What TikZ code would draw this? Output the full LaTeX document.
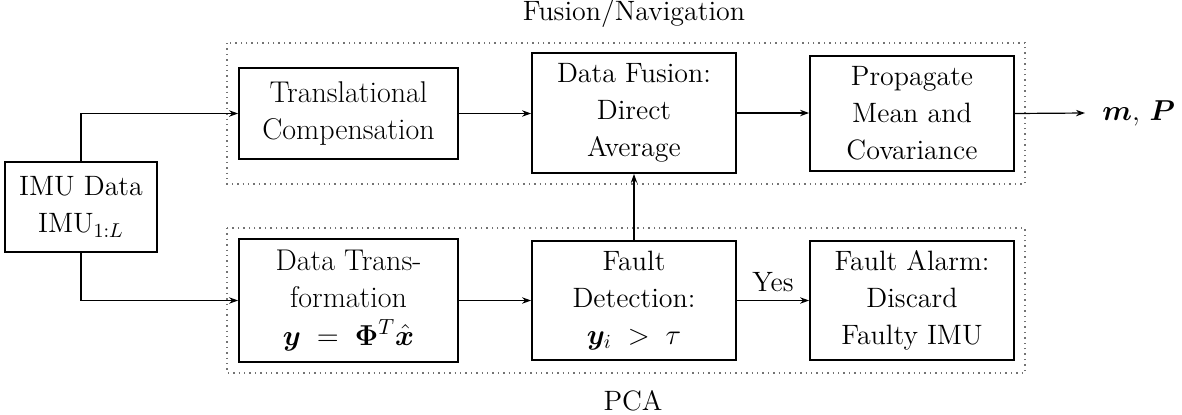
\documentclass[tikz,border=0pt]{standalone}
\usepackage{fontspec}
\usepackage{amsmath,bm}
\usetikzlibrary{arrows.meta}
\tikzset{
  blk/.style={draw, line width=0.9pt, align=center, inner sep=0pt,
    font=\fontsize{14}{18.5}\selectfont},
  bigblk/.style={blk, font=\fontsize{15}{18.7}\selectfont},
  conn/.style={line width=0.6pt, -{Stealth[length=4.5pt,width=3.2pt]}},
  grp/.style={draw=black!55, dotted, line width=0.7pt},
  lbl/.style={inner sep=0pt, font=\fontsize{14}{17}\selectfont}
}
\begin{document}
\begin{tikzpicture}[x=0.5pt,y=-0.5pt]
\useasboundingbox (0,0) rectangle (1182,414);
% groups
\draw[grp] (227,43) rectangle (1025,184);
\draw[grp] (227,228) rectangle (1025,373);
\node[lbl] (fn) at (634,13) {Fusion/Navigation};
\node[lbl] (pca) at (633,401) {PCA};
% blocks
\node[blk, minimum width=76pt, minimum height=45pt] (imu) at (81,207) {IMU Data\\IMU$_{1:L}$};
\node[bigblk, minimum width=109.5pt, minimum height=45.5pt] (tc) at (348.5,113.5) {Translational\\Compensation};
\node[blk, minimum width=102pt, minimum height=60pt] (df) at (634,113) {Data Fusion:\\Direct\\Average};
\node[blk, minimum width=102pt, minimum height=57.5pt] (pm) at (912,113.5) {Propagate\\Mean and\\Covariance};
\node[bigblk, minimum width=109.5pt, minimum height=61.5pt] (dt) at (348.5,300.5) {Data Trans-\\formation\\$\bm{y}\;=\;\bm{\Phi}^T\hat{\bm{x}}$};
\node[blk, minimum width=102pt, minimum height=59.5pt] (fd) at (634,300.5) {Fault\\Detection:\\$\bm{y}_i\;>\;\tau$};
\node[blk, minimum width=102pt, minimum height=59.5pt] (fa) at (912,300.5) {Fault Alarm:\\Discard\\Faulty IMU};
\node[lbl, anchor=west, inner xsep=8.5pt, font=\fontsize{14.5}{17}\selectfont] (out) at (1085,113) {$\bm{m},\,\bm{P}$};
% connectors
\draw[conn] (imu.north) |- (tc.west);
\draw[conn] (imu.south) |- (dt.west);
\draw[conn] (tc.east) -- (tc.east -| df.west);
\draw[conn] (df.east) -- (df.east -| pm.west);
\draw[conn] (pm.east) -- (out.west);
\draw[conn] (dt.east) -- (dt.east -| fd.west);
\draw[conn] (fd.east) -- node[lbl, above=4pt] (yes) {Yes} (fd.east -| fa.west);
\draw[conn] (fd.north) -- (fd.north |- df.south);
\end{tikzpicture}
\end{document}
